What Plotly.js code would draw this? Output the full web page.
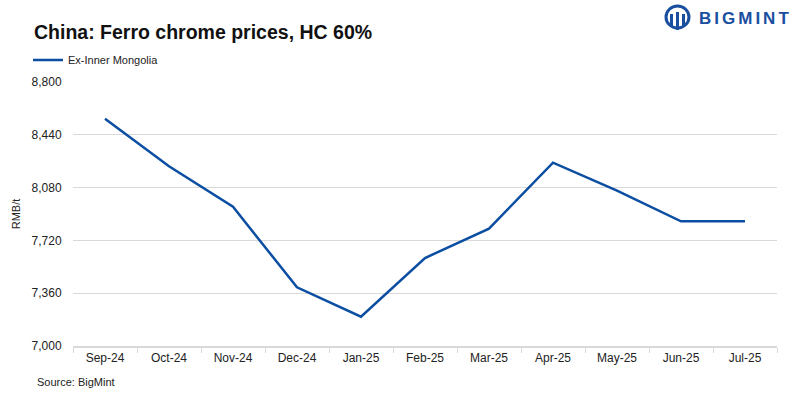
<!DOCTYPE html>
<html>
<head>
<meta charset="utf-8">
<script src="https://cdn.plot.ly/plotly-3.0.1.min.js"></script>
<style>
html,body{margin:0;padding:0;background:#fff;}
#chart{width:800px;height:399px;}
</style>
</head>
<body>
<div id="chart"></div>
<script>
const months = ["Sep-24","Oct-24","Nov-24","Dec-24","Jan-25","Feb-25","Mar-25","Apr-25","May-25","Jun-25","Jul-25"];
const innerMongolia = [8550, 8225, 7950, 7400, 7200, 7600, 7800, 8250, 8060, 7850, 7850];
const yTicks = [7000, 7360, 7720, 8080, 8440, 8800];

const font = "Liberation Sans, Arial, sans-serif";
const blue = "#0b4ea2";

const trace = {
  x: months,
  y: innerMongolia,
  type: "scatter",
  mode: "lines",
  name: "Ex-Inner Mongolia",
  line: {color: blue, width: 2.5},
  hoverinfo: "x+y"
};

const pw = 800 - 73 - 23, ph = 399 - 82 - 53;
function px(x){ return (x - 73) / pw; }
function py(y){ return (399 - 53 - y) / ph; }

const layout = {
  width: 800,
  height: 399,
  margin: {l: 73, r: 23, t: 82, b: 53},
  paper_bgcolor: "#fff",
  plot_bgcolor: "#fff",
  font: {family: font, size: 12, color: "#222"},
  title: {
    text: "<b>China: Ferro chrome prices, HC 60%</b>",
    font: {family: font, size: 19.5, color: "#111"},
    x: 34 / 800, xref: "container", xanchor: "left",
    y: 1 - 32 / 399, yref: "container", yanchor: "middle"
  },
  showlegend: true,
  legend: {
    orientation: "h",
    x: 28 / 800, xref: "container", xanchor: "left",
    y: 1 - 60 / 399, yref: "container", yanchor: "middle",
    font: {family: font, size: 11, color: "#222"},
    itemwidth: 30,
    bgcolor: "rgba(0,0,0,0)"
  },
  xaxis: {
    type: "category",
    range: [-0.5, 10.5],
    showgrid: false,
    showline: true,
    linecolor: "#d9d9d9",
    linewidth: 1.5,
    ticks: "outside",
    tickson: "boundaries",
    ticklen: 5,
    tickcolor: "#d9d9d9",
    tickfont: {family: font, size: 12, color: "#222"},
    fixedrange: true
  },
  yaxis: {
    range: [7000, 8800],
    tickvals: yTicks,
    tickformat: ",",
    showgrid: true,
    gridcolor: "#d9d9d9",
    gridwidth: 1,
    zeroline: false,
    showline: false,
    ticks: "outside",
    ticklen: 8,
    tickcolor: "rgba(0,0,0,0)",
    tickfont: {family: font, size: 12, color: "#222"},
    title: {text: "RMB/t", font: {family: font, size: 11, color: "#222"}, standoff: 8},
    fixedrange: true
  },
  annotations: [
    {
      text: "Source: BigMint",
      xref: "paper", yref: "paper",
      x: px(35), xanchor: "left",
      y: py(382), yanchor: "middle",
      showarrow: false,
      font: {family: font, size: 11, color: "#222"}
    },
    {
      text: "<b><span style=\"letter-spacing:3px\">BIGMINT</span></b>",
      xref: "paper", yref: "paper",
      x: px(794), xanchor: "right",
      y: py(18), yanchor: "middle",
      showarrow: false,
      font: {family: font, size: 17, color: "#1a4fa0"}
    }
  ],
  shapes: [
    {type: "circle", xref: "paper", yref: "paper", x0: px(666), x1: px(689), y0: py(28), y1: py(6),
     line: {color: "#1a4fa0", width: 3}, fillcolor: "rgba(0,0,0,0)"},
    {type: "rect", xref: "paper", yref: "paper", x0: px(670), x1: px(673), y0: py(27), y1: py(14),
     line: {width: 0}, fillcolor: "#1a4fa0"},
    {type: "rect", xref: "paper", yref: "paper", x0: px(676), x1: px(679), y0: py(30), y1: py(12),
     line: {width: 0}, fillcolor: "#1a4fa0"},
    {type: "rect", xref: "paper", yref: "paper", x0: px(682), x1: px(685), y0: py(27), y1: py(14),
     line: {width: 0}, fillcolor: "#1a4fa0"}
  ]
};

Plotly.newPlot("chart", [trace], layout, {displayModeBar: false, staticPlot: true});
</script>
</body>
</html>
